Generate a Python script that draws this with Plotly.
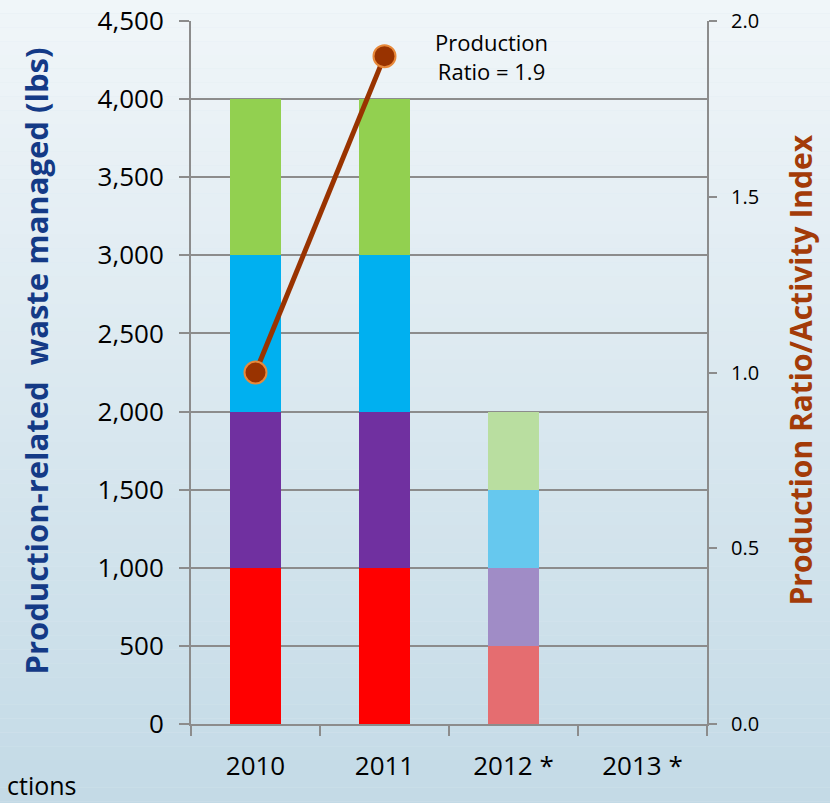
import plotly.graph_objects as go

years = ["2010", "2011", "2012 *", "2013 *"]
red_vals = [1000, 1000, 500, 0]
purple_vals = [1000, 1000, 500, 0]
blue_vals = [1000, 1000, 500, 0]
green_vals = [1000, 1000, 500, 0]
red_cols = ["#ff0000", "#ff0000", "#e56d70", "#e56d70"]
purple_cols = ["#7030a0", "#7030a0", "#a08cc6", "#a08cc6"]
blue_cols = ["#00b0f0", "#00b0f0", "#66c8ee", "#66c8ee"]
green_cols = ["#92d050", "#92d050", "#b9dea0", "#b9dea0"]

ratio_years = ["2010", "2011"]
ratio_vals = [1.0, 1.9]

left_ticks = list(range(0, 4501, 500))
right_ticks = [0.0, 0.5, 1.0, 1.5, 2.0]

fig = go.Figure()
for vals, cols in [(red_vals, red_cols), (purple_vals, purple_cols),
                   (blue_vals, blue_cols), (green_vals, green_cols)]:
    fig.add_trace(go.Bar(x=years, y=vals, marker=dict(color=cols, line=dict(width=0)),
                         width=0.4, showlegend=False, hoverinfo="skip"))

fig.add_trace(go.Scatter(x=ratio_years, y=ratio_vals, yaxis="y2", mode="lines+markers",
                         line=dict(color="#993300", width=5),
                         marker=dict(size=22, color="#993300", line=dict(color="#e8893a", width=2)),
                         showlegend=False))

# background gradient bands
shapes = []
n = 60
top = (241, 246, 249)
bot = (195, 218, 230)
for i in range(n):
    t = i / (n - 1)
    c = tuple(int(round(top[k] + (bot[k] - top[k]) * t)) for k in range(3))
    y1 = 1.05 - (1.05 + 0.13) * i / n
    y0 = 1.05 - (1.05 + 0.13) * (i + 1) / n
    shapes.append(dict(type="rect", xref="paper", yref="paper", x0=-0.5, x1=1.5,
                       y0=y0, y1=y1, fillcolor="rgb(%d,%d,%d)" % c,
                       line=dict(width=0), layer="below"))

font_family = "Open Sans, Noto Sans, sans-serif"
grid = "#8c8c8c"
fig.update_layout(
    width=830, height=803,
    margin=dict(l=191, r=123, t=21, b=79, autoexpand=False),
    paper_bgcolor="#dde9f0", plot_bgcolor="rgba(0,0,0,0)",
    barmode="stack", bargap=0.6,
    shapes=shapes,
    font=dict(family=font_family, size=26, color="#000000"),
    xaxis=dict(type="category", tickson="boundaries", ticks="outside", ticklen=10,
               tickcolor=grid, tickwidth=2, showline=True, linecolor=grid,
               linewidth=2, showgrid=False, tickfont=dict(size=26), range=[-0.5, 3.5],
               automargin=False, ticklabelstandoff=18),
    yaxis=dict(range=[0, 4500], tickvals=left_ticks, tickformat=",", ticks="outside",
               ticklen=10, tickcolor=grid, tickwidth=2, showline=True,
               linecolor=grid, linewidth=2, gridcolor=grid, gridwidth=2,
               zeroline=False, tickfont=dict(size=26), automargin=False,
               ticklabelstandoff=10),
    yaxis2=dict(range=[0, 2], tickvals=right_ticks, tickformat=".1f", overlaying="y",
                side="right", ticks="outside", ticklen=8, tickcolor=grid, tickwidth=2,
                showline=True, linecolor=grid, linewidth=2, showgrid=False,
                zeroline=False, tickfont=dict(size=20), automargin=False,
                ticklabelstandoff=10),
    annotations=[
        dict(x=0, y=0.5, xref="paper", yref="paper", xanchor="center", yanchor="middle",
             xshift=-156, yshift=11, textangle=-90, showarrow=False,
             text="<b>Production-related  waste managed (lbs)</b>",
             font=dict(size=31, color="#143a86")),
        dict(x=1, y=0.5, xref="paper", yref="paper", xanchor="center", yanchor="middle",
             xshift=93, yshift=2, textangle=-90, showarrow=False,
             text="<b>Production Ratio/Activity Index</b>",
             font=dict(size=30, color="#a33b08")),
        dict(x=1.83, y=4270, xref="x", yref="y", text="Production<br>Ratio = 1.9",
             showarrow=False, font=dict(size=22, color="#000000"), align="center"),
        dict(x=0, y=-0.087, xref="paper", yref="paper", xanchor="left", yanchor="middle",
             xshift=-186, text="ctions", showarrow=False, font=dict(size=25, color="#000000")),
    ],
)

fig.write_html("out.html")
